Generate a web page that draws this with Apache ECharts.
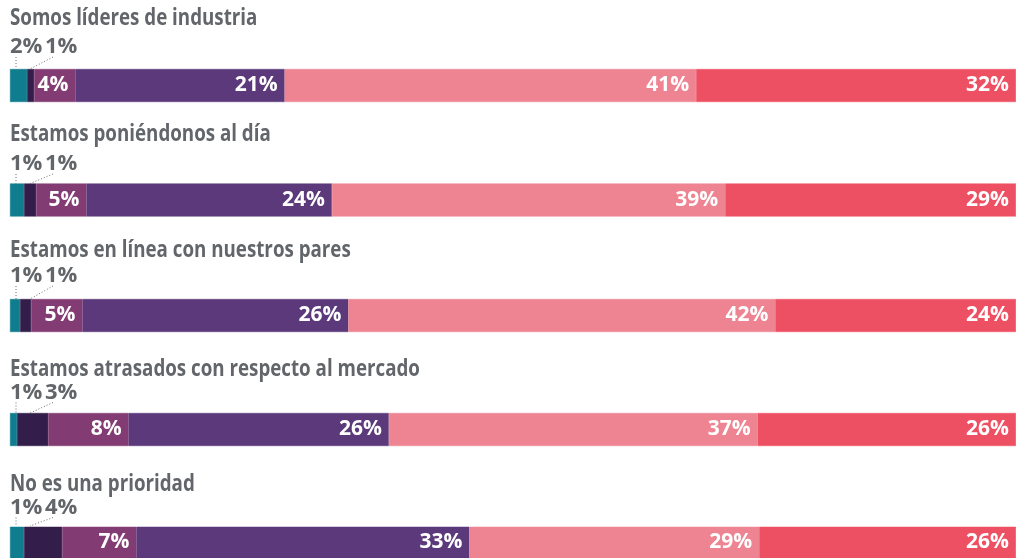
<!DOCTYPE html>
<html>
<head>
<meta charset="utf-8">
<script src="https://cdn.jsdelivr.net/npm/echarts@6/dist/echarts.min.js"></script>
<style>
  html, body { margin: 0; padding: 0; background: #ffffff; }
  #chart { width: 1016px; height: 558px; }
</style>
</head>
<body>
<div id="chart"></div>
<script>
// filas (títulos) y porcentajes
const rows = [
  'Somos líderes de industria',
  'Estamos poniéndonos al día',
  'Estamos en línea con nuestros pares',
  'Estamos atrasados con respecto al mercado',
  'No es una prioridad'
];
const teal = [1.7, 1.4, 1.0, 0.7, 1.4];
const darkPurple = [0.7, 1.2, 1.1, 3.1, 3.8];
const magenta = [4.1, 5.0, 5.1, 8.0, 7.4];
const purple = [20.8, 24.4, 26.4, 25.9, 33.2];
const pink = [40.9, 39.1, 42.4, 36.7, 28.9];
const red = [31.8, 28.9, 23.9, 25.7, 25.6];

const segments = [
  { name: 'teal', data: teal, color: '#0f7d8e' },
  { name: 'darkPurple', data: darkPurple, color: '#331d4a' },
  { name: 'magenta', data: magenta, color: '#833c73' },
  { name: 'purple', data: purple, color: '#5b397b' },
  { name: 'pink', data: pink, color: '#ee8492' },
  { name: 'red', data: red, color: '#ee5063' }
];

// posiciones verticales de cada bloque (layout, no datos)
const LEFT = 10;
const BAR_H = 33;
const barTops = [69, 183.5, 299, 413, 527];
const titleMid = [18.5, 134, 250, 369, 484];
const smallMid = [47, 164, 276, 392.5, 508.5];
const GREY = '#62666a';

let myChart = echarts.init(document.getElementById('chart'), null, { renderer: 'canvas' });

let grids = [], xAxes = [], yAxes = [], series = [], graphics = [];

rows.forEach((title, i) => {
  const top = barTops[i];
  const total = segments.reduce((s, seg) => s + seg.data[i], 0);

  grids.push({ left: LEFT, right: 0, top: top, height: BAR_H });
  xAxes.push({ gridIndex: i, type: 'value', min: 0, max: total, show: false });
  yAxes.push({ gridIndex: i, type: 'category', data: [title], show: false });

  segments.forEach((seg, k) => {
    series.push({
      type: 'bar',
      name: seg.name,
      xAxisIndex: i,
      yAxisIndex: i,
      stack: 'row' + i,
      barWidth: BAR_H,
      itemStyle: { color: seg.color, borderColor: seg.color, borderWidth: 0.5 },
      label: {
        show: k >= 2,
        position: 'insideRight',
        distance: 7,
        color: '#ffffff',
        fontFamily: 'Open Sans',
        fontWeight: 'bold',
        fontSize: 21,
        formatter: p => Math.round(p.value) + '%'
      },
      data: [seg.data[i]]
    });
  });

  // etiquetas pequeñas sobre la barra con líneas guía punteadas
  const labelOffset = smallMid[i] - top;
  series.push({
    type: 'custom',
    xAxisIndex: i,
    yAxisIndex: i,
    z: 5,
    silent: true,
    data: [[0, 0, teal[i], darkPurple[i]]],
    renderItem: (params, api) => {
      const base = api.coord([0, 0]);
      const x0 = base[0];
      const barTop = base[1] - BAR_H / 2;
      const ly = barTop + labelOffset;
      const dotted = { stroke: '#6e6e6e', lineWidth: 1, lineDash: [1, 2] };
      const txt = { fill: GREY, fontFamily: 'Open Sans', fontWeight: 'bold', fontSize: 22, verticalAlign: 'middle' };
      return {
        type: 'group',
        children: [
          { type: 'text', x: x0, y: ly,
            style: Object.assign({ text: Math.round(api.value(2)) + '%', align: 'left' }, txt) },
          { type: 'text', x: x0 + 35, y: ly,
            style: Object.assign({ text: Math.round(api.value(3)) + '%', align: 'left' }, txt) },
          { type: 'line', shape: { x1: x0 + 6, y1: ly + 10, x2: x0 + 6, y2: barTop }, style: dotted },
          { type: 'line', shape: { x1: x0 + 43, y1: ly + 10, x2: x0 + 20, y2: barTop }, style: dotted }
        ]
      };
    }
  });

  // título de la fila (fuente condensada simulada con scaleX)
  graphics.push({
    type: 'text',
    x: LEFT,
    y: titleMid[i],
    scaleX: 0.815,
    style: {
      text: title,
      fill: GREY,
      fontFamily: 'Open Sans',
      fontWeight: 'bold',
      fontSize: 23,
      verticalAlign: 'middle'
    }
  });
});

myChart.setOption({
  animation: false,
  backgroundColor: '#ffffff',
  grid: grids,
  xAxis: xAxes,
  yAxis: yAxes,
  graphic: graphics,
  series: series
});
</script>
</body>
</html>
